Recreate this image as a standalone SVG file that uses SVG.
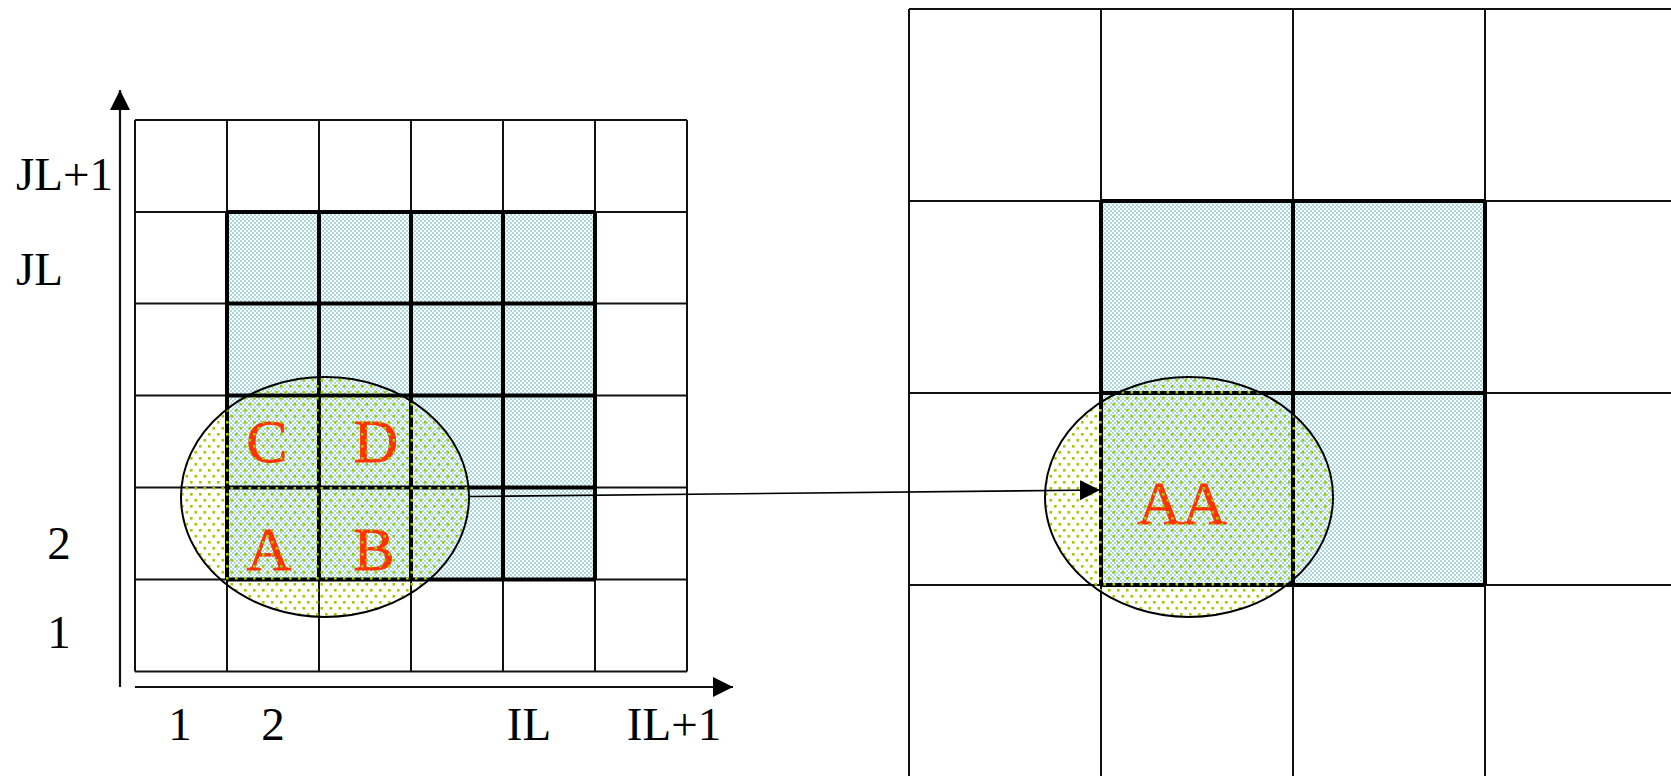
<svg xmlns="http://www.w3.org/2000/svg" width="1671" height="776" viewBox="0 0 1671 776">
  <style>
    .thin { stroke: #111; stroke-width: 2; fill: none; }
    .thick { stroke: #000; stroke-width: 4; fill: none; }
    .axis { stroke: #111; stroke-width: 2.2; fill: none; }
    .ell { fill: url(#dots); stroke: #000; stroke-width: 2; }
    .lbl { font-family: "Liberation Serif", "Times New Roman", serif; font-size: 47px; fill: #000; }
    .red { font-family: "Liberation Serif", "Times New Roman", serif; font-size: 62px; fill: #FF3300; text-anchor: middle; stroke: #FF3300; stroke-width: 0.8; }
  </style>
  <defs>
    <pattern id="checker" width="4" height="4" patternUnits="userSpaceOnUse">
      <rect width="4" height="4" fill="#ffffff"/>
      <rect x="0" y="0" width="2" height="2" fill="#a8d9dc"/>
      <rect x="2" y="2" width="2" height="2" fill="#a8d9dc"/>
    </pattern>
    <pattern id="dots" width="9" height="12" patternUnits="userSpaceOnUse">
      <rect x="1" y="1" width="2.6" height="2.6" fill="#9ccc00"/>
      <rect x="5.5" y="7" width="2.6" height="2.6" fill="#9ccc00"/>
    </pattern>
    <marker id="tri" viewBox="0 0 20 20" refX="20" refY="10" markerWidth="20" markerHeight="20" markerUnits="userSpaceOnUse" orient="auto">
      <path d="M0,0 L20,10 L0,20 Z" fill="#000"/>
    </marker>
  </defs>
  <rect width="1671" height="776" fill="#fff"/>

  <g id="left-grid">
    <rect x="227" y="212" width="368" height="367.5" fill="url(#checker)"/>
    <path class="thin" d="M135,120V671.5 M227,120V671.5 M319,120V671.5 M411,120V671.5 M503,120V671.5 M595,120V671.5 M687,120V671.5
      M135,120H687 M135,212H687 M135,303.5H687 M135,395.5H687 M135,487.5H687 M135,579.5H687 M135,671.5H687"/>
    <path class="thick" d="M227,212V579.5 M319,212V579.5 M411,212V579.5 M503,212V579.5 M595,212V579.5
      M227,212H595 M227,303.5H595 M227,395.5H595 M227,487.5H595 M227,579.5H595"/>
  </g>

  <g id="axes">
    <line class="axis" x1="120" y1="687" x2="120" y2="90" marker-end="url(#tri)"/>
    <line class="axis" x1="135" y1="687" x2="733" y2="687" marker-end="url(#tri)"/>
  </g>

  <g id="axis-labels">
    <text class="lbl" x="16" y="190">JL+1</text>
    <text class="lbl" x="16" y="285">JL</text>
    <text class="lbl" x="59" y="559" text-anchor="middle">2</text>
    <text class="lbl" x="59" y="648" text-anchor="middle">1</text>
    <text class="lbl" x="180" y="740" text-anchor="middle">1</text>
    <text class="lbl" x="273" y="740" text-anchor="middle">2</text>
    <text class="lbl" x="529" y="740" text-anchor="middle">IL</text>
    <text class="lbl" x="674" y="740" text-anchor="middle">IL+1</text>
  </g>

  <g id="cell-labels">
    <text class="red" x="267" y="462">C</text>
    <text class="red" x="376" y="462">D</text>
    <text class="red" x="269" y="570">A</text>
    <text class="red" x="374" y="570">B</text>
  </g>

  <g id="left-ellipse">
    <ellipse class="ell" cx="325" cy="497" rx="144" ry="120"/>
  </g>

  <g id="right-grid">
    <rect x="1101" y="201" width="384" height="384" fill="url(#checker)"/>
    <path class="thin" d="M909,9V776 M1101,9V776 M1293,9V776 M1485,9V776
      M909,9H1671 M909,201H1671 M909,393H1671 M909,585H1671"/>
    <path class="thick" d="M1101,201V585 M1293,201V585 M1485,201V585 M1101,201H1485 M1101,393H1485 M1101,585H1485"/>
  </g>

  <g id="right-label">
    <text class="red" x="1182" y="524">AA</text>
  </g>

  <g id="right-ellipse">
    <ellipse class="ell" cx="1189" cy="497" rx="144" ry="120"/>
  </g>

  <g id="connectors">
    <line x1="469" y1="496.5" x2="1100" y2="490" stroke="#000" stroke-width="1.6" marker-end="url(#tri)"/>
  </g>
</svg>
